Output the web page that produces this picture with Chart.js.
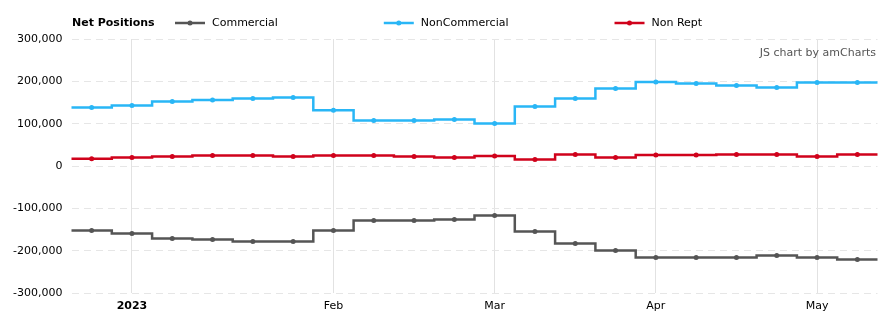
<!DOCTYPE html>
<html>
<head>
<meta charset="utf-8">
<script src="https://cdn.jsdelivr.net/npm/chart.js@4"></script>
<style>
  html, body { margin: 0; padding: 0; background: #fff; }
  #wrap { position: relative; width: 892px; height: 327px; }
</style>
</head>
<body>
<div id="wrap"><canvas id="cotChart" width="892" height="327"></canvas></div>
<script>
// dados semanais (relatório COT, terças-feiras)
const reportDates = ['2022-12-27', '2023-01-03', '2023-01-10', '2023-01-17', '2023-01-24', '2023-01-31',
    '2023-02-07', '2023-02-14', '2023-02-21', '2023-02-28', '2023-03-07', '2023-03-14', '2023-03-21',
    '2023-03-28', '2023-04-04', '2023-04-11', '2023-04-18', '2023-04-25', '2023-05-02', '2023-05-09'];
const xTickLabels = ['', '2023', '', '', '', '', 'Feb', '', '', '', 'Mar', '', '', '', 'Apr', '', '', '', 'May', ''];

const commercial = [-152100, -159200, -171000, -173400, -178100, -178100, -152100, -128500, -128500, -126100,
    -116700, -154500, -182800, -199400, -215900, -215900, -215900, -211200, -215900, -220600];
const nonCommercial = [138400, 143200, 152600, 155900, 159700, 162100, 131400, 107700, 107700, 110100,
    100600, 140800, 159700, 183300, 198400, 195100, 190400, 185700, 197500, 197500];
const nonRept = [17200, 20300, 22700, 25000, 25000, 22700, 25000, 25000, 22700, 20300,
    23600, 15600, 27400, 20300, 26000, 26000, 27400, 27400, 22700, 27400];

const yTicks = [-300000, -200000, -100000, 0, 100000, 200000, 300000];

const FONT = 'DejaVu Sans, Verdana, sans-serif';

// Estende a linha em degrau até as bordas da área do gráfico (meia célula de cada lado)
const stepEdges = {
    id: 'stepEdges',
    beforeDatasetsDraw(chart) {
        const { ctx, chartArea } = chart;
        chart.data.datasets.forEach((ds, i) => {
            const pts = chart.getDatasetMeta(i).data;
            if (!pts.length) return;
            const first = pts[0], last = pts[pts.length - 1];
            ctx.save();
            ctx.strokeStyle = ds.borderColor;
            ctx.lineWidth = ds.borderWidth;
            ctx.beginPath();
            ctx.moveTo(chartArea.left, first.y);
            ctx.lineTo(first.x, first.y);
            ctx.moveTo(last.x, last.y);
            ctx.lineTo(chartArea.right, last.y);
            ctx.stroke();
            ctx.restore();
        });
    }
};

// Legenda no estilo amCharts: título + itens em linha
const topLegend = {
    id: 'topLegend',
    afterDraw(chart) {
        const ctx = chart.ctx;
        const y = 23;
        ctx.save();
        ctx.textBaseline = 'middle';
        ctx.fillStyle = '#000';
        ctx.font = 'bold 11px ' + FONT;
        ctx.fillText('Net Positions', 72, y);
        ctx.font = '11px ' + FONT;
        let x = 175;
        chart.data.datasets.forEach(ds => {
            ctx.strokeStyle = ds.borderColor;
            ctx.lineWidth = 2.5;
            ctx.beginPath();
            ctx.moveTo(x, y);
            ctx.lineTo(x + 30, y);
            ctx.stroke();
            ctx.fillStyle = ds.borderColor;
            ctx.beginPath();
            ctx.arc(x + 15, y, 2.5, 0, Math.PI * 2);
            ctx.fill();
            ctx.fillStyle = '#000';
            ctx.fillText(ds.label, x + 37, y);
            x += 37 + ctx.measureText(ds.label).width + 106;
        });
        // marca d'água
        ctx.fillStyle = '#555';
        ctx.textAlign = 'right';
        ctx.fillText('JS chart by amCharts', 876, 53);
        ctx.restore();
    }
};

function makeSeries(label, data, color) {
    return {
        label: label,
        data: data,
        borderColor: color,
        backgroundColor: color,
        borderWidth: 2.5,
        stepped: 'middle',
        fill: false,
        pointRadius: 2.5,
        pointHoverRadius: 3,
        pointBorderWidth: 0
    };
}

const ctx = document.getElementById('cotChart').getContext('2d');
new Chart(ctx, {
    type: 'line',
    data: {
        labels: reportDates,
        datasets: [
            makeSeries('Commercial', commercial, '#555555'),
            makeSeries('NonCommercial', nonCommercial, '#29b6f6'),
            makeSeries('Non Rept', nonRept, '#d0021b')
        ]
    },
    options: {
        responsive: false,
        animation: false,
        layout: { padding: { top: 39, right: 14.5, left: 0, bottom: 0 } },
        plugins: {
            legend: { display: false },
            tooltip: { enabled: false }
        },
        scales: {
            x: {
                type: 'category',
                offset: true,
                afterFit(scale) { scale.height = 34; },
                grid: {
                    offset: false,
                    drawTicks: false,
                    color: c => xTickLabels[c.index] ? '#e2e2e2' : 'rgba(0,0,0,0)',
                    lineWidth: 1
                },
                border: { display: false },
                ticks: {
                    autoSkip: false,
                    maxRotation: 0,
                    padding: 7,
                    color: '#000',
                    font: c => ({ family: FONT, size: 11, weight: xTickLabels[c.index] === '2023' ? 'bold' : 'normal' }),
                    callback: (v, i) => xTickLabels[i]
                }
            },
            y: {
                min: yTicks[0],
                max: yTicks[yTicks.length - 1],
                afterFit(scale) { scale.width = 71.5; },
                afterBuildTicks(scale) { scale.ticks = yTicks.map(v => ({ value: v })); },
                grid: { color: '#e6e6e6', drawTicks: false, lineWidth: 1 },
                border: { display: false, dash: [7, 5] },
                ticks: {
                    padding: 9,
                    color: '#000',
                    font: { family: FONT, size: 11 },
                    callback: v => v.toLocaleString('en-US')
                }
            }
        }
    },
    plugins: [stepEdges, topLegend]
});
</script>
</body>
</html>
